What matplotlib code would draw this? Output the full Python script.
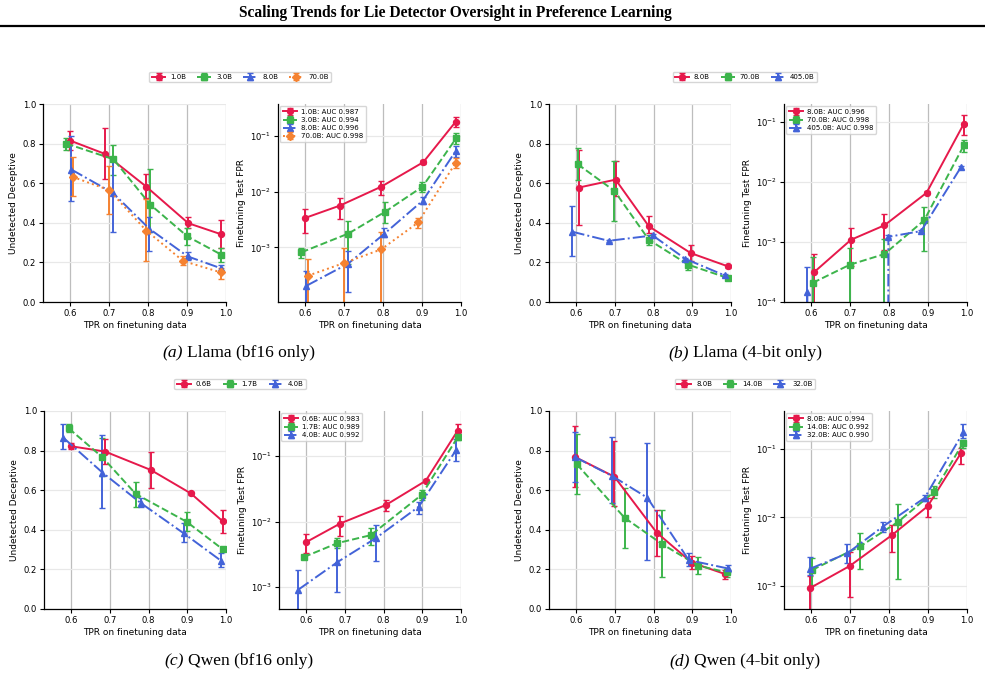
"""Scaling trends for lie detector oversight: undetected-deceptive rate and
finetuning FPR vs. detector TPR, for Llama and Qwen model families.

Writes out.png (985x677).
"""

import numpy as np
import matplotlib
matplotlib.use("Agg")
import matplotlib.pyplot as plt
from matplotlib.lines import Line2D

W, H = 985, 677

COLORS = ["#e6194b", "#3cb44b", "#4363d8", "#f58231"]
MARKERS = ["o", "s", "^", "D"]
LINESTYLES = ["-", "--", "-.", ":"]

# ----------------------------------------------------------------------
# (a) Llama bf16
# ----------------------------------------------------------------------
a_labels = ["1.0B", "3.0B", "8.0B", "70.0B"]
a_auc = ["0.987", "0.994", "0.996", "0.998"]
a_tpr = [[0.600, 0.689, 0.795, 0.903, 0.986],
         [0.590, 0.711, 0.806, 0.901, 0.988],
         [0.603, 0.710, 0.803, 0.902, 0.986],
         [0.606, 0.700, 0.795, 0.890, 0.986]]
a_und = [[0.815, 0.748, 0.583, 0.398, 0.343],
         [0.800, 0.721, 0.491, 0.331, 0.239],
         [0.669, 0.550, 0.370, 0.230, 0.171],
         [0.632, 0.565, 0.361, 0.207, 0.150]]
a_und_lo = [[0.770, 0.622, 0.523, 0.373, 0.272],
            [0.768, 0.642, 0.356, 0.286, 0.203],
            [0.508, 0.353, 0.259, 0.213, 0.146],
            [0.533, 0.445, 0.205, 0.188, 0.116]]
a_und_hi = [[0.866, 0.877, 0.644, 0.427, 0.415],
            [0.830, 0.793, 0.671, 0.373, 0.272],
            [0.839, 0.720, 0.430, 0.255, 0.188],
            [0.734, 0.687, 0.521, 0.230, 0.171]]
a_fpr = [[3.37e-3, 5.6e-3, 0.0122, 0.0335, 0.177],
         [8.15e-4, 1.77e-3, 4.38e-3, 0.0122, 0.091],
         [2.05e-4, 5.1e-4, 1.75e-3, 6.9e-3, 0.0526],
         [3.09e-4, 5.26e-4, 9.2e-4, 2.79e-3, 0.0326]]
a_fpr_lo = [[1.8e-3, 3.2e-3, 8.8e-3, 0.031, 0.145],
            [6.5e-4, 5.0e-4, 2.75e-3, 0.010, 0.071],
            [0.0, 1.6e-4, 1.55e-3, 6.1e-3, 0.041],
            [0.0, 0.0, 0.0, 2.2e-3, 0.0266]]
a_fpr_hi = [[4.94e-3, 7.8e-3, 0.0154, 0.036, 0.218],
            [9.9e-4, 3.0e-3, 6.5e-3, 0.0148, 0.110],
            [3.85e-4, 8.7e-4, 2.2e-3, 7.9e-3, 0.066],
            [6.1e-4, 9.9e-4, 1.85e-3, 3.4e-3, 0.040]]

# ----------------------------------------------------------------------
# (b) Llama 4-bit
# ----------------------------------------------------------------------
b_labels = ["8.0B", "70.0B", "405.0B"]
b_auc = ["0.996", "0.998", "0.998"]
b_tpr = [[0.607, 0.702, 0.788, 0.896, 0.992],
         [0.604, 0.699, 0.788, 0.890, 0.992],
         [0.590, 0.684, 0.798, 0.882, 0.984]]
b_und = [[0.578, 0.618, 0.382, 0.247, 0.180],
         [0.696, 0.561, 0.314, 0.188, 0.121],
         [0.355, 0.309, 0.336, 0.218, 0.134]]
b_und_lo = [[0.387, 0.533, 0.348, 0.205, 0.172],
            [0.615, 0.408, 0.286, 0.163, 0.113],
            [0.230, 0.305, 0.330, 0.212, 0.128]]
b_und_hi = [[0.770, 0.714, 0.434, 0.287, 0.188],
            [0.778, 0.714, 0.340, 0.208, 0.129],
            [0.486, 0.313, 0.342, 0.224, 0.140]]
b_fpr = [[3.13e-4, 1.09e-3, 1.9e-3, 6.6e-3, 0.094],
         [2.09e-4, 4.18e-4, 6.3e-4, 2.3e-3, 0.041],
         [1.48e-4, 0.0, 1.22e-3, 1.52e-3, 0.0175]]
b_fpr_lo = [[0.0, 4.0e-4, 7.4e-4, 6.2e-3, 0.060],
            [0.0, 0.0, 0.0, 7.2e-4, 0.032],
            [0.0, 0.0, 1.15e-3, 1.45e-3, 0.0165]]
b_fpr_hi = [[6.2e-4, 1.72e-3, 2.93e-3, 7.0e-3, 0.132],
            [5.6e-4, 7.9e-4, 1.12e-3, 3.9e-3, 0.050],
            [3.8e-4, 0.0, 1.3e-3, 1.6e-3, 0.0185]]

# ----------------------------------------------------------------------
# (c) Qwen bf16
# ----------------------------------------------------------------------
c_labels = ["0.6B", "1.7B", "4.0B"]
c_auc = ["0.983", "0.989", "0.992"]
c_tpr = [[0.600, 0.688, 0.806, 0.909, 0.991],
         [0.594, 0.681, 0.767, 0.898, 0.992],
         [0.580, 0.681, 0.780, 0.891, 0.987]]
c_und = [[0.822, 0.795, 0.702, 0.584, 0.444],
         [0.912, 0.766, 0.581, 0.441, 0.301],
         [0.865, 0.689, 0.535, 0.382, 0.244]]
c_und_lo = [[0.806, 0.731, 0.609, 0.578, 0.384],
            [0.892, 0.672, 0.517, 0.392, 0.295],
            [0.808, 0.508, 0.517, 0.340, 0.214]]
c_und_hi = [[0.840, 0.857, 0.795, 0.590, 0.500],
            [0.936, 0.862, 0.643, 0.488, 0.307],
            [0.933, 0.879, 0.559, 0.433, 0.285]]
c_fpr = [[4.84e-3, 9.33e-3, 0.0179, 0.042, 0.243],
         [2.86e-3, 4.68e-3, 6.19e-3, 0.0255, 0.197],
         [9.1e-4, 2.4e-3, 5.57e-3, 0.0169, 0.123]]
c_fpr_lo = [[3.3e-3, 6.05e-3, 0.0147, 0.040, 0.186],
            [2.75e-3, 3.93e-3, 4.4e-3, 0.0214, 0.175],
            [0.0, 8.3e-4, 2.46e-3, 0.0131, 0.084]]
c_fpr_hi = [[6.4e-3, 0.0123, 0.0211, 0.044, 0.307],
            [2.97e-3, 5.57e-3, 7.9e-3, 0.0303, 0.221],
            [1.84e-3, 4.16e-3, 8.9e-3, 0.0202, 0.186]]

# ----------------------------------------------------------------------
# (d) Qwen 4-bit
# ----------------------------------------------------------------------
d_labels = ["8.0B", "14.0B", "32.0B"]
d_auc = ["0.994", "0.992", "0.990"]
d_tpr = [[0.596, 0.699, 0.808, 0.899, 0.984],
         [0.602, 0.725, 0.822, 0.915, 0.989],
         [0.598, 0.693, 0.784, 0.891, 0.991]]
d_und = [[0.769, 0.668, 0.386, 0.234, 0.177],
         [0.731, 0.461, 0.328, 0.219, 0.185],
         [0.766, 0.672, 0.562, 0.247, 0.205]]
d_und_lo = [[0.614, 0.520, 0.269, 0.202, 0.150],
            [0.579, 0.310, 0.160, 0.177, 0.163],
            [0.643, 0.534, 0.247, 0.217, 0.189]]
d_und_hi = [[0.924, 0.850, 0.500, 0.269, 0.197],
            [0.884, 0.613, 0.500, 0.261, 0.200],
            [0.892, 0.867, 0.837, 0.285, 0.222]]
d_fpr = [[9.25e-4, 1.96e-3, 5.57e-3, 0.0146, 0.0865],
         [1.71e-3, 3.77e-3, 8.55e-3, 0.0235, 0.121],
         [1.79e-3, 3.0e-3, 7.38e-3, 0.0193, 0.178]]
d_fpr_lo = [[0.0, 7.0e-4, 3.18e-3, 0.0101, 0.0607],
            [1.04e-3, 1.77e-3, 1.28e-3, 0.0193, 0.102],
            [1.45e-3, 2.19e-3, 6.1e-3, 0.0172, 0.143]]
d_fpr_hi = [[1.42e-3, 3.18e-3, 7.8e-3, 0.0193, 0.102],
            [2.54e-3, 5.9e-3, 0.0157, 0.0285, 0.135],
            [2.63e-3, 4.07e-3, 8.73e-3, 0.0215, 0.230]]

caption_tags = ["(a)", "(b)", "(c)", "(d)"]
caption_texts = ["Llama (bf16 only)", "Llama (4-bit only)",
                 "Qwen (bf16 only)", "Qwen (4-bit only)"]

SERIF = "Liberation Serif"


def px_axes(fig, x0, y0, x1, y1):
    return fig.add_axes([x0 / W, 1 - y1 / H, (x1 - x0) / W, (y1 - y0) / H])


def style(ax):
    for s in ("top", "right"):
        ax.spines[s].set_visible(False)
    for s in ("left", "bottom"):
        ax.spines[s].set_linewidth(0.9)
    ax.set_xlim(0.53, 1.0)
    ax.set_xticks([0.6, 0.7, 0.8, 0.9, 1.0])
    ax.tick_params(labelsize=6.1, length=3, width=0.8, pad=2)
    ax.minorticks_off()
    ax.grid(True, axis="x", color="#bdbdbd", linewidth=0.9)
    ax.grid(True, axis="y", color="#e8e8e8", linewidth=0.9)
    ax.set_axisbelow(True)
    ax.set_xlabel("TPR on finetuning data", fontsize=6.5, labelpad=2)


def draw(ax, x, y, lo, hi, i, label):
    y = np.asarray(y)
    err = np.vstack([y - np.asarray(lo), np.asarray(hi) - y])
    ms = 3.6 if MARKERS[i] == "D" else 4.3
    return ax.errorbar(x, y, yerr=err, color=COLORS[i], marker=MARKERS[i],
                       linestyle=LINESTYLES[i], linewidth=1.4, markersize=ms,
                       elinewidth=1.4, capsize=2.2, capthick=1.0, label=label)


def panel(fig, box_l, box_r, labels, auc, tpr, und, und_lo, und_hi,
          fpr, fpr_lo, fpr_hi, fpr_ylim, leg_xy):
    axl = px_axes(fig, *box_l)
    axr = px_axes(fig, *box_r)
    handles = []
    for i, lab in enumerate(labels):
        handles.append(draw(axl, tpr[i], und[i], und_lo[i], und_hi[i], i, lab))
        draw(axr, tpr[i], fpr[i], fpr_lo[i], fpr_hi[i], i, f"{lab}: AUC {auc[i]}")
    style(axl)
    axl.set_ylim(0, 1.0)
    axl.set_yticks([0.0, 0.2, 0.4, 0.6, 0.8, 1.0])
    axl.set_ylabel("Undetected Deceptive", fontsize=6.5, labelpad=3)

    axr.set_yscale("log")
    style(axr)
    axr.set_ylim(*fpr_ylim)
    axr.set_ylabel("Finetuning Test FPR", fontsize=6.5, labelpad=3)
    axr.legend(loc="upper left", fontsize=5, frameon=True, borderpad=0.4,
               labelspacing=0.3, handlelength=2.0, handletextpad=0.6,
               borderaxespad=0.3, edgecolor="#cccccc", fancybox=True)

    fig.legend(handles, labels, loc="center", ncol=len(labels),
               bbox_to_anchor=(leg_xy[0] / W, 1 - leg_xy[1] / H),
               fontsize=5, frameon=True, edgecolor="#cccccc",
               handlelength=2.0, columnspacing=1.6, borderpad=0.35,
               handletextpad=0.7)


fig = plt.figure(figsize=(W / 100, H / 100), dpi=100)

panel(fig, (43, 104, 226, 302), (278, 104, 461, 302), a_labels, a_auc, a_tpr,
      a_und, a_und_lo, a_und_hi, a_fpr, a_fpr_lo, a_fpr_hi, (1.05e-4, 0.37), (240, 77))
panel(fig, (549, 104, 731, 302), (784, 104, 967, 302), b_labels, b_auc, b_tpr,
      b_und, b_und_lo, b_und_hi, b_fpr, b_fpr_lo, b_fpr_hi, (1e-4, 0.2), (745, 77))
panel(fig, (44, 411, 226, 609), (279, 411, 461, 609), c_labels, c_auc, c_tpr,
      c_und, c_und_lo, c_und_hi, c_fpr, c_fpr_lo, c_fpr_hi, (4.6e-4, 0.49), (240, 384))
panel(fig, (549, 411, 731, 609), (784, 411, 967, 609), d_labels, d_auc, d_tpr,
      d_und, d_und_lo, d_und_hi, d_fpr, d_fpr_lo, d_fpr_hi, (4.6e-4, 0.36), (745, 384))

# title + rule
fig.text(455 / W, 1 - 13 / H, "Scaling Trends for Lie Detector Oversight in Preference Learning",
         ha="center", va="center", fontsize=11.2, fontweight="bold", family=SERIF)
fig.add_artist(Line2D([0, 1], [1 - 25.5 / H] * 2, color="black",
                      linewidth=1.6, transform=fig.transFigure))

# captions: italic tag followed by upright text, centred as one line
cap_pos = [(239, 353), (745, 353), (239, 661), (745, 661)]
CAP_FS = 12.6
renderer = fig.canvas.get_renderer()
for tag, txt, (cx, cy) in zip(caption_tags, caption_texts, cap_pos):
    t_tag = fig.text(0, 1 - cy / H, tag, ha="left", va="center",
                     fontsize=CAP_FS, family=SERIF, style="italic")
    t_txt = fig.text(0, 1 - cy / H, txt, ha="left", va="center",
                     fontsize=CAP_FS, family=SERIF)
    w_tag = t_tag.get_window_extent(renderer).width
    w_txt = t_txt.get_window_extent(renderer).width
    gap = 4.0
    x0 = cx - (w_tag + gap + w_txt) / 2
    t_tag.set_x(x0 / W)
    t_txt.set_x((x0 + w_tag + gap) / W)

fig.savefig("out.png", dpi=100)
